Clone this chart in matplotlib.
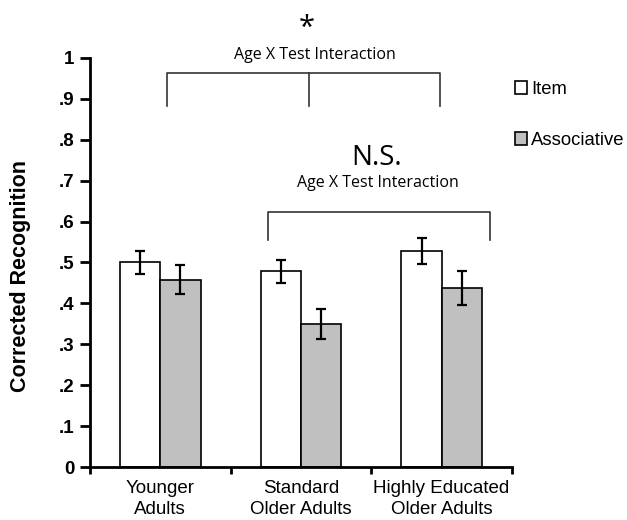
import matplotlib

matplotlib.use("Agg")
import matplotlib.pyplot as plt
import numpy as np

GROUPS = ["Younger\nAdults", "Standard\nOlder Adults", "Highly Educated\nOlder Adults"]
ITEM = [0.50, 0.478, 0.528]
ITEM_ERR = [0.028, 0.028, 0.032]
ASSOC = [0.458, 0.350, 0.437]
ASSOC_ERR = [0.035, 0.037, 0.042]
YTICKS = [0, 0.1, 0.2, 0.3, 0.4, 0.5, 0.6, 0.7, 0.8, 0.9, 1.0]
YTICKLABELS = ["0", ".1", ".2", ".3", ".4", ".5", ".6", ".7", ".8", ".9", "1"]

plt.rcParams["font.family"] = ["Liberation Sans", "DejaVu Sans"]
NOTE_FONT = ["Open Sans", "DejaVu Sans"]

fig = plt.figure(figsize=(6.27, 5.2), dpi=100)
ax = fig.add_axes([0.1435, 0.1019, 0.673, 0.7866])

x = np.arange(len(GROUPS))
w = 0.286
err_kw = dict(ecolor="black", elinewidth=1.6, capsize=3.5, capthick=1.6)
ax.bar(x - w / 2, ITEM, w, yerr=ITEM_ERR, color="white", edgecolor="black",
       linewidth=1.2, error_kw=err_kw, label="Item", zorder=2)
ax.bar(x + w / 2, ASSOC, w, yerr=ASSOC_ERR, color="#c0c0c0", edgecolor="black",
       linewidth=1.2, error_kw=err_kw, label="Associative", zorder=2)

ax.set_xlim(-0.5, 2.5)
ax.set_ylim(0, 1.0)
ax.set_yticks(YTICKS)
ax.set_yticklabels(YTICKLABELS, fontsize=13.5, fontweight="bold")
ax.set_xticks([-0.5, 0.5, 1.5, 2.5])
ax.set_xticklabels([])
ax.set_xticks(x, GROUPS, minor=True, linespacing=1.35)
ax.tick_params(axis="x", which="minor", length=0, labelsize=13.5, pad=9)
ax.tick_params(axis="x", which="major", direction="out", length=5, width=2)
ax.tick_params(axis="y", direction="out", length=7, width=2, pad=4)
for s in ["top", "right"]:
    ax.spines[s].set_visible(False)
for s in ["left", "bottom"]:
    ax.spines[s].set_linewidth(2)
ax.set_ylabel("Corrected Recognition", fontsize=15.5, fontweight="bold")
ax.yaxis.set_label_coords(-0.14, 0.467)

# significance brackets (drawn above the axes)
bk = dict(color="#333333", linewidth=1.2, clip_on=False)
ax.plot([0.05, 0.05, 1.99, 1.99], [0.883, 0.964, 0.964, 0.883], **bk)
ax.plot([1.057, 1.057], [0.964, 0.883], **bk)
ax.text(1.1, 1.008, "Age X Test Interaction", ha="center", va="center",
        fontsize=11.5, family=NOTE_FONT)
ax.text(1.04, 1.072, "*", ha="center", va="center", fontsize=21, family=NOTE_FONT)

ax.plot([0.764, 0.764, 2.343, 2.343], [0.555, 0.623, 0.623, 0.555], **bk)
ax.text(1.546, 0.694, "Age X Test Interaction", ha="center", va="center",
        fontsize=11.5, family=NOTE_FONT)
ax.text(1.536, 0.755, "N.S.", ha="center", va="center", fontsize=20, family=NOTE_FONT)

ax.legend(loc="upper left", bbox_to_anchor=(0.99, 0.962), frameon=False,
          fontsize=13.3, handlelength=0.65, handleheight=0.65, handletextpad=0.2,
          labelspacing=1.85, borderaxespad=0)

fig.savefig("out.png", dpi=100)
